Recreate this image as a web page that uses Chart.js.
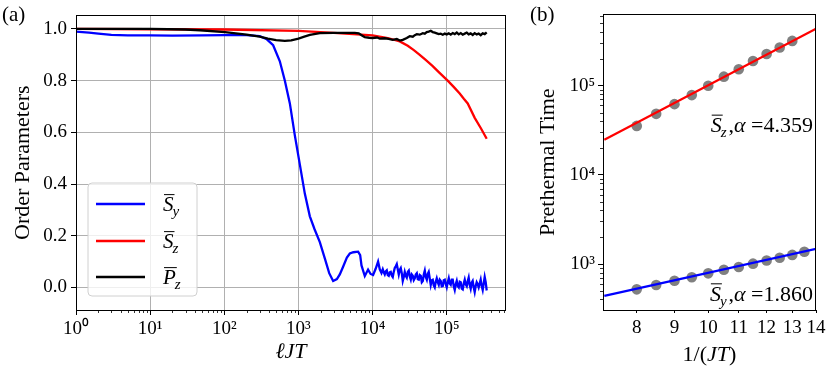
<!DOCTYPE html>
<html><head><meta charset="utf-8">
<script src="https://cdn.jsdelivr.net/npm/chart.js@4.4.1/dist/chart.umd.min.js"></script>
<style>
html,body{margin:0;padding:0;background:#fff;width:830px;height:369px;overflow:hidden}
#wa{position:absolute;left:0;top:0;width:520px;height:369px}
#wb{position:absolute;left:520px;top:0;width:310px;height:369px}
.pl{position:absolute;top:4px;font:21px "Liberation Serif",serif;line-height:1;color:#000}
</style></head><body>
<div id="wa"><canvas id="ca" width="520" height="369"></canvas></div>
<div id="wb"><canvas id="cb" width="310" height="369"></canvas></div>
<div class="pl" style="left:2px">(a)</div>
<div class="pl" style="left:530px">(b)</div>
<script>
// ---------- Panel (a) data ----------
const tSy = [1,1.5,2,3,5,10,20,50,100,200,300,375,456,561,656,766,894,1045,1219,1425,1650,1943,2268,2600,2938,3300,3612,4003,4500,4932,5500,6383,6800,7086,7852,8693,9400,10160,11000,11860,12500,13180,
  13720,14150,14590,15050,15530,16020,16520,17040,17580,18130,
  18710,19300,19910,20540,21190,21860,22550,
  23260,23990,24750,25530,26340,27170,28030,28910,
  29830,30770,31740,32740,33780,34840,35940,
  37080,38250,39460,40700,41990,43320,
  44680,46100,47550,49050,50600,52200,
  53850,55550,57190,59000,60860,62780,
  64760,66800,68920,71100,73340,
  75660,78040,80510,83050,85670,
  88380,91170,94050,97020,
  100000,103200,106500,109800,
  113200,116800,120500,124300,
  128200,132300,136500,140800,
  145200,149800,154500,159400,
  164400,169600,175000,
  180500,186200,192100,197700,
  203900,210400,217000,
  223900,231000,238300,
  245800,253600,261600,269800,
  278300,287100,296200,
  305500,315200,325100,335400,346000];
const sy = [0.99,0.986,0.982,0.977,0.975,0.975,0.974,0.975,0.976,0.976,0.972,0.96,0.937,0.875,0.80,0.712,0.588,0.475,0.363,0.275,0.225,0.175,0.112,0.055,0.025,0.032,0.05,0.08,0.115,0.131,0.136,0.138,0.125,0.085,0.044,0.069,0.052,0.048,0.072,0.10,0.07,0.056,
  0.07,0.058,0.05,0.062,0.066,0.048,0.045,0.058,0.06,0.046,
  0.04,0.06,0.075,0.082,0.09,0.07,0.05,
  0.068,0.075,0.055,0.025,0.04,0.06,0.045,0.038,
  0.06,0.065,0.042,0.03,0.05,0.045,0.028,
  0.035,0.05,0.055,0.032,0.03,0.048,
  0.045,0.02,0.025,0.05,0.065,0.04,
  0.03,0.052,0.06,0.035,0.01,0.028,
  0.03,0.008,0.0,0.022,0.035,
  0.02,0.01,0.03,0.025,0.004,
  0.005,0.028,0.03,0.012,
  0.0,0.02,0.035,0.015,
  0.01,0.03,0.03,0.004,
  -0.01,0.012,0.025,0.005,
  0.0,0.022,0.02,-0.005,
  -0.008,0.015,0.03,
  0.012,0.005,0.025,0.038,
  0.01,-0.005,0.018,
  0.025,0.0,-0.018,
  0.005,0.02,0.012,0.0,
  0.015,0.03,0.005,
  -0.01,0.015,0.04,0.02,-0.012];
const tSz = [1,10,100,1000,3000,10000,16000,23270,29800,36000,43240,52000,64700,80000,103000,125000,149600,170000,191900,238500,290000,346000];
const sz  = [1.0,0.999,0.998,0.993,0.985,0.975,0.965,0.952,0.935,0.918,0.90,0.88,0.856,0.83,0.80,0.775,0.75,0.73,0.712,0.656,0.615,0.575];
const tPz = [1,10,30,47,102,200,300,387,500,656,800,1000,1200,1425,1943,3000,4500,5750,6500,7200,7850,9000,10000,11500,12500,14590,16500,18700,21190,23270,25530,28910,31700,34840,37080,39460,43240,47550,50600,53760,57190,60860,64760,68920,73340,78040,83050,88380,94050,100000,106500,113200,120500,128200,136500,145200,154500,164400,175000,186200,197700,210400,223900,238300,253600,269800,287100,305500,325100,346000];
const pz  = [1.0,1.0,0.998,0.995,0.988,0.978,0.97,0.963,0.957,0.954,0.956,0.963,0.97,0.977,0.984,0.985,0.985,0.985,0.983,0.975,0.968,0.966,0.965,0.967,0.963,0.964,0.962,0.958,0.961,0.955,0.958,0.965,0.972,0.97,0.976,0.98,0.978,0.984,0.982,0.988,0.99,0.993,0.988,0.986,0.983,0.98,0.982,0.978,0.982,0.979,0.983,0.978,0.984,0.98,0.986,0.979,0.984,0.978,0.982,0.986,0.979,0.983,0.977,0.984,0.979,0.982,0.976,0.983,0.98,0.987];
const xMajorA = [1,10,100,1000,10000,100000];
const yTicksA = [0.0,0.2,0.4,0.6,0.8,1.0];
const legendBase = ['S','S','P'];
const legendSub  = ['y','z','z'];

// ---------- Panel (b) data ----------
const invJT = [8,8.5,9,9.5,10,10.5,11,11.5,12,12.5,13,13.5];
const tauSz = [35400,48300,62100,78400,100000,126300,153100,188800,227000,268500,317600];
const tauSy = [520,581,648,711,786,861,927,1009,1097,1174,1266,1375];
const fitX  = [7.23,14];
const fitSz = [24700,435500];
const fitSy = [440,1480];
const alphaSz = '4.359', alphaSy = '1.860';
const xTicksB = [8,9,10,11,12,13,14];
const yMajorB = [1000,10000,100000];

const SERIF = '"Liberation Serif", "Times New Roman", serif';
const SUP = '⁰¹²³⁴⁵⁶⁷⁸⁹';
const pow10Label = v => { const e = Math.round(Math.log10(v)); return '10' + String(e).split('').map(c=>SUP[+c]).join(''); };

const minorA = []; for (let e=0;e<=5;e++) for (let m=2;m<=9;m++){ const v=m*Math.pow(10,e); if (v<6.3e5) minorA.push(v); }
const minorB = []; for (let e=2;e<=5;e++) for (let m=2;m<=9;m++){ const v=m*Math.pow(10,e); if (v>305 && v<6.3e5) minorB.push(v); }

function drawMath(ctx, x, y, base, sub, tail, size, alignRight) {
  const fI = 'italic ' + size + 'px ' + SERIF;
  const fS = 'italic ' + Math.round(size*0.7) + 'px ' + SERIF;
  const fR = size + 'px ' + SERIF;
  ctx.font = fI; const wB = ctx.measureText(base).width;
  ctx.font = fS; const wS = ctx.measureText(sub).width;
  let parts = [];
  if (tail) { parts = [[fR, ','], [fI, 'α'], [fR, ' =' + tail]]; }
  let wT = 0; parts.forEach(p => { ctx.font = p[0]; wT += ctx.measureText(p[1]).width; });
  const total = wB + wS + 1 + wT;
  let cx = alignRight ? x - total : x;
  ctx.fillStyle = '#000'; ctx.textBaseline = 'alphabetic'; ctx.textAlign = 'left';
  ctx.font = fI; ctx.fillText(base, cx, y);
  ctx.strokeStyle = '#000'; ctx.lineWidth = 1;
  ctx.beginPath(); ctx.moveTo(cx + 1, y - size*0.78); ctx.lineTo(cx + wB + 1, y - size*0.78); ctx.stroke();
  cx += wB;
  ctx.font = fS; ctx.fillText(sub, cx - 1, y + size*0.22);
  cx += wS + 1;
  parts.forEach(p => { ctx.font = p[0]; ctx.fillText(p[1], cx, y); cx += ctx.measureText(p[1]).width; });
}

const framePlugin = { id:'frame', afterDraw(chart){ const a=chart.chartArea, c=chart.ctx; c.save(); c.strokeStyle='#000'; c.lineWidth=1; c.strokeRect(Math.round(a.left)+0.5, Math.round(a.top)+0.5, Math.round(a.right-a.left)-1, Math.round(a.bottom-a.top)); c.restore(); } };

const minorPlugin = { id:'minor', afterDraw(chart, args, opts){ const c=chart.ctx, a=chart.chartArea; c.save(); c.strokeStyle='#000'; c.lineWidth=0.8; c.beginPath();
  (opts.list||[]).forEach(m => { const s = chart.scales[m.axis];
    m.values.forEach(v => { const p = Math.round(s.getPixelForValue(v)) + 0.5;
      if (m.axis==='x') { c.moveTo(p, a.bottom); c.lineTo(p, a.bottom + m.len); } else { c.moveTo(a.left, p); c.lineTo(a.left - m.len, p); } }); });
  c.stroke(); c.restore(); } };

const legendPlugin = { id:'mlegend', afterDraw(chart){ const c=chart.ctx; c.save();
  const x0=88, y0=183, w=109, h=113, r=4;
  c.beginPath(); c.moveTo(x0+r,y0); c.lineTo(x0+w-r,y0); c.quadraticCurveTo(x0+w,y0,x0+w,y0+r); c.lineTo(x0+w,y0+h-r); c.quadraticCurveTo(x0+w,y0+h,x0+w-r,y0+h); c.lineTo(x0+r,y0+h); c.quadraticCurveTo(x0,y0+h,x0,y0+h-r); c.lineTo(x0,y0+r); c.quadraticCurveTo(x0,y0,x0+r,y0); c.closePath();
  c.fillStyle='rgba(255,255,255,0.8)'; c.fill(); c.strokeStyle='#d0d0d0'; c.lineWidth=1; c.stroke();
  const rows=[204,241,277];
  chart.data.datasets.forEach((d,i)=>{ c.strokeStyle=d.borderColor; c.lineWidth=2.4; c.beginPath(); c.moveTo(96,rows[i]); c.lineTo(145,rows[i]); c.stroke();
    drawMath(c, 163, rows[i]+7, legendBase[i], legendSub[i], null, 21, false); });
  c.restore(); } };

const annotPlugin = { id:'annot', afterDraw(chart){ const c=chart.ctx, a=chart.chartArea, ys=chart.scales.y; c.save();
  drawMath(c, a.right-3, ys.getPixelForValue(30000), 'S', 'z', alphaSz, 22, true);
  drawMath(c, a.right-3, ys.getPixelForValue(385), 'S', 'y', alphaSy, 22, true);
  const parts=[[SERIF,'1/(',''],[SERIF,'JT','italic '],[SERIF,')','']]; let tw=0;
  parts.forEach(p=>{c.font=p[2]+'22px '+p[0]; tw+=c.measureText(p[1]).width;});
  let x=(a.left+a.right)/2 - tw/2; const y=361; c.fillStyle='#000'; c.textBaseline='alphabetic'; c.textAlign='left';
  parts.forEach(p=>{c.font=p[2]+'22px '+p[0]; c.fillText(p[1],x,y); x+=c.measureText(p[1]).width;});
  c.restore(); } };

const tickFont = {family: SERIF, size: 19};
const titleFont = {family: SERIF, size: 22};

new Chart(document.getElementById('ca'), {
  type:'scatter',
  data:{ datasets:[
    {label:'S̄_y', data:tSy.map((t,i)=>({x:t,y:sy[i]})), borderColor:'#0000ff', backgroundColor:'#0000ff', showLine:true, pointRadius:0, borderWidth:2.3, order:3},
    {label:'S̄_z', data:tSz.map((t,i)=>({x:t,y:sz[i]})), borderColor:'#ff0000', backgroundColor:'#ff0000', showLine:true, pointRadius:0, borderWidth:2.3, order:2},
    {label:'P̄_z', data:tPz.map((t,i)=>({x:t,y:pz[i]})), borderColor:'#000000', backgroundColor:'#000000', showLine:true, pointRadius:0, borderWidth:2.3, order:1}
  ]},
  options:{
    responsive:false, animation:false, devicePixelRatio:1,
    layout:{padding:{top:6,right:14,left:0,bottom:0}},
    plugins:{legend:{display:false}, tooltip:{enabled:false},
      minor:{list:[{axis:'x', values:minorA, len:3}]}},
    scales:{
      x:{type:'logarithmic', min:1, max:6.3e5, border:{display:false},
        grid:{color:'#b0b0b0', lineWidth:1, tickColor:'#000', tickLength:5},
        afterBuildTicks:s=>{ s.ticks = xMajorA.map(v=>({value:v})); },
        afterFit:s=>{ s.height = 59; },
        ticks:{autoSkip:false, maxRotation:0, padding:3, color:'#000', font:tickFont, callback:v=>pow10Label(v)},
        title:{display:true, text:'ℓJT', color:'#000', font:{...titleFont, style:'italic'}, padding:{top:0,bottom:4}}
      },
      y:{type:'linear', min:-0.0875, max:1.0525, border:{display:false},
        grid:{color:'#b0b0b0', lineWidth:1, tickColor:'#000', tickLength:5},
        afterBuildTicks:s=>{ s.ticks = yTicksA.map(v=>({value:v})); },
        afterFit:s=>{ s.width = 76; },
        ticks:{autoSkip:false, padding:4, color:'#000', font:tickFont, callback:v=>Number(v).toFixed(1)},
        title:{display:true, text:'Order Parameters', color:'#000', font:titleFont, padding:{top:10,bottom:0}}
      }
    }
  },
  plugins:[minorPlugin, framePlugin, legendPlugin]
});

const grayPt = 'rgba(85,85,85,0.75)';
new Chart(document.getElementById('cb'), {
  type:'scatter',
  data:{ datasets:[
    {label:'fit S̄_z', data:fitX.map((x,i)=>({x:x,y:fitSz[i]})), borderColor:'#ff0000', showLine:true, pointRadius:0, borderWidth:2.2},
    {label:'fit S̄_y', data:fitX.map((x,i)=>({x:x,y:fitSy[i]})), borderColor:'#0000ff', showLine:true, pointRadius:0, borderWidth:2.2},
    {label:'S̄_z', data:tauSz.map((v,i)=>({x:invJT[i],y:v})), backgroundColor:grayPt, borderColor:grayPt, pointRadius:5.3, borderWidth:0},
    {label:'S̄_y', data:tauSy.map((v,i)=>({x:invJT[i],y:v})), backgroundColor:grayPt, borderColor:grayPt, pointRadius:5.3, borderWidth:0}
  ]},
  options:{
    responsive:false, animation:false, devicePixelRatio:1,
    layout:{padding:{top:6,right:14,left:0,bottom:0}},
    plugins:{legend:{display:false}, tooltip:{enabled:false},
      minor:{list:[{axis:'y', values:minorB, len:3}]}},
    scales:{
      x:{type:'logarithmic', min:7.23, max:14, border:{display:false},
        grid:{drawOnChartArea:false, tickColor:'#000', tickLength:3},
        afterBuildTicks:s=>{ s.ticks = xTicksB.map(v=>({value:v})); },
        afterFit:s=>{ s.height = 59; },
        ticks:{autoSkip:false, maxRotation:0, padding:4, color:'#000', font:tickFont, callback:v=>String(v)},
        title:{display:false}
      },
      y:{type:'logarithmic', min:305, max:6.3e5, border:{display:false},
        grid:{drawOnChartArea:false, tickColor:'#000', tickLength:5},
        afterBuildTicks:s=>{ s.ticks = yMajorB.map(v=>({value:v})); },
        afterFit:s=>{ s.width = 83; },
        ticks:{autoSkip:false, padding:3, color:'#000', font:tickFont, callback:v=>pow10Label(v)},
        title:{display:true, text:'Prethermal Time', color:'#000', font:titleFont, padding:{top:15,bottom:0}}
      }
    }
  },
  plugins:[minorPlugin, framePlugin, annotPlugin]
});
</script>
</body></html>
